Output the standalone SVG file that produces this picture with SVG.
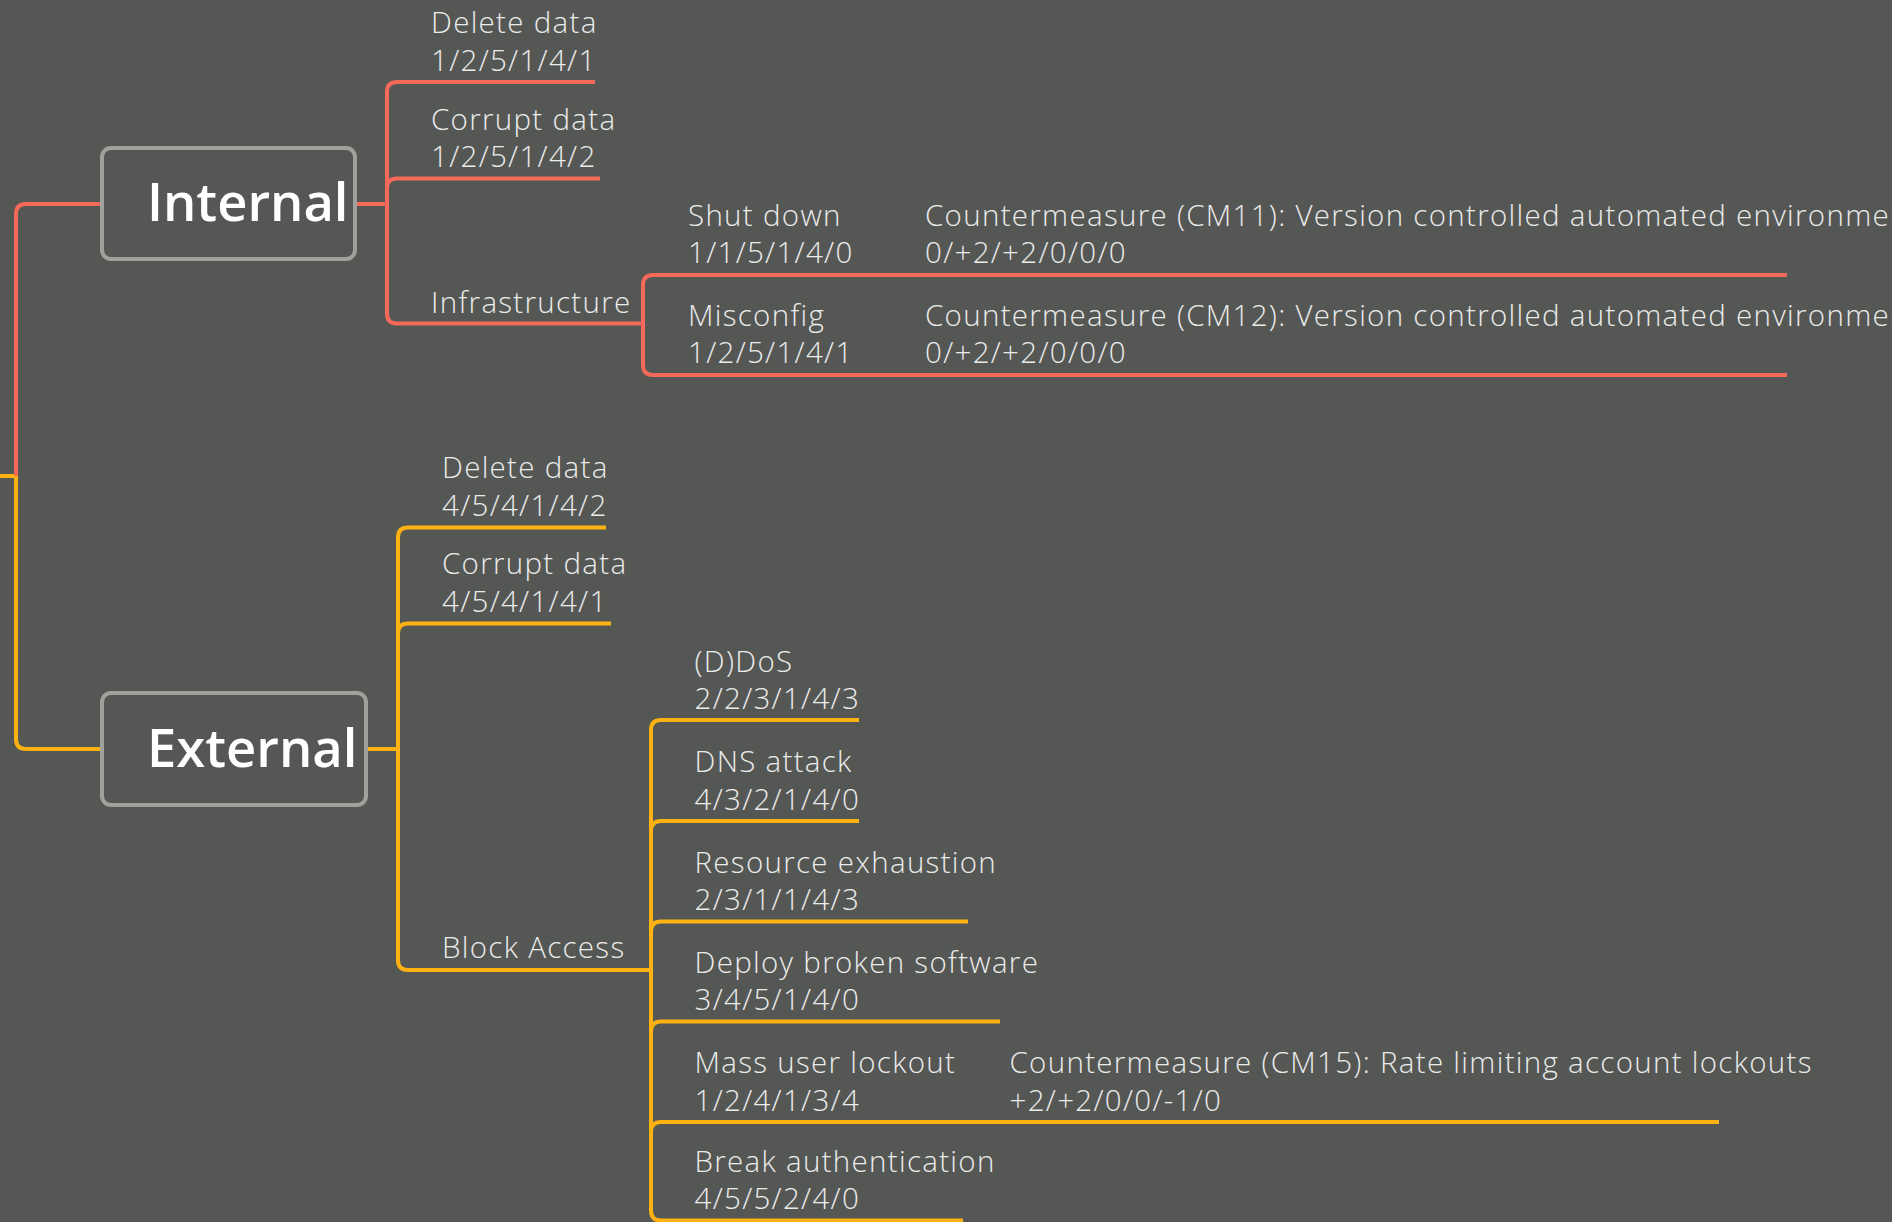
<svg xmlns="http://www.w3.org/2000/svg" width="1892" height="1222" viewBox="0 0 1892 1222">
<style>
.bg{fill:#555754}
.r{stroke:#F4695A;fill:none;stroke-width:4;stroke-linecap:butt}
.o{stroke:#FDB212;fill:none;stroke-width:4;stroke-linecap:butt}
.box{fill:#555754;stroke:#9EA19C;stroke-width:4}
.title{font-family:"Open Sans","Noto Sans",sans-serif;font-weight:600;font-size:52.5px;fill:#FFFFFF}
.leaf{font-family:"Open Sans","Noto Sans",sans-serif;font-weight:300;font-size:29.5px;letter-spacing:1.3px;fill:#EBEBEB}
</style>
<rect class="bg" x="0" y="0" width="1892" height="1222"/>
<g id="connectors">
  <path class="o" d="M0,476 H16"/>
  <path class="r" d="M16,476 V214 Q16,204 26,204 H102"/>
  <path class="o" d="M16,476 V739 Q16,749 26,749 H102"/>
  <path class="r" d="M355,204 H387"/>
  <path class="r" d="M595,82 H397 Q387,82 387,92 V313.5 Q387,323.5 397,323.5 H643"/>
  <path class="r" d="M387,188.5 Q387,178.5 397,178.5 H600"/>
  <path class="r" d="M1787,275 H653 Q643,275 643,285 V365 Q643,375 653,375 H1787"/>
  <path class="o" d="M366,749 H398"/>
  <path class="o" d="M606,527.5 H408 Q398,527.5 398,537.5 V960 Q398,970 408,970 H651"/>
  <path class="o" d="M398,633.5 Q398,623.5 408,623.5 H611"/>
  <path class="o" d="M859,720 H661 Q651,720 651,730 V1210.5 Q651,1220.5 661,1220.5 H963"/>
  <path class="o" d="M651,831 Q651,821 661,821 H859"/>
  <path class="o" d="M651,931.5 Q651,921.5 661,921.5 H968"/>
  <path class="o" d="M651,1031.5 Q651,1021.5 661,1021.5 H1000"/>
  <path class="o" d="M651,1132 Q651,1122 661,1122 H1719"/>
</g>
<g id="node-internal">
  <rect class="box" x="102" y="148" width="253" height="111" rx="9"/>
  <text class="title" x="147" y="221">Internal</text>
</g>
<g id="node-external">
  <rect class="box" x="102" y="693" width="264" height="112" rx="9"/>
  <text class="title" x="147" y="767">External</text>
</g>
<g id="node-int-delete"><text class="leaf"><tspan x="431" y="33">Delete data</tspan><tspan x="431" y="70.5">1/2/5/1/4/1</tspan></text></g>
<g id="node-int-corrupt"><text class="leaf"><tspan x="431" y="129.5">Corrupt data</tspan><tspan x="431" y="167">1/2/5/1/4/2</tspan></text></g>
<g id="node-infrastructure"><text class="leaf" x="431" y="313">Infrastructure</text></g>
<g id="node-shutdown"><text class="leaf"><tspan x="688" y="225.5">Shut down</tspan><tspan x="688" y="263">1/1/5/1/4/0</tspan></text></g>
<g id="node-cm11"><text class="leaf"><tspan x="925" y="225.5">Countermeasure (CM11): Version controlled automated environment</tspan><tspan x="925" y="263">0/+2/+2/0/0/0</tspan></text></g>
<g id="node-misconfig"><text class="leaf"><tspan x="688" y="325.5">Misconfig</tspan><tspan x="688" y="363">1/2/5/1/4/1</tspan></text></g>
<g id="node-cm12"><text class="leaf"><tspan x="925" y="325.5">Countermeasure (CM12): Version controlled automated environment</tspan><tspan x="925" y="363">0/+2/+2/0/0/0</tspan></text></g>
<g id="node-ext-delete"><text class="leaf"><tspan x="442" y="478">Delete data</tspan><tspan x="442" y="515.5">4/5/4/1/4/2</tspan></text></g>
<g id="node-ext-corrupt"><text class="leaf"><tspan x="442" y="574">Corrupt data</tspan><tspan x="442" y="611.5">4/5/4/1/4/1</tspan></text></g>
<g id="node-block-access"><text class="leaf" x="442" y="958">Block Access</text></g>
<g id="node-ddos"><text class="leaf"><tspan x="694.5" y="671.5">(D)DoS</tspan><tspan x="694.5" y="708.5">2/2/3/1/4/3</tspan></text></g>
<g id="node-dns"><text class="leaf"><tspan x="694.5" y="772">DNS attack</tspan><tspan x="694.5" y="809.5">4/3/2/1/4/0</tspan></text></g>
<g id="node-resource"><text class="leaf"><tspan x="694.5" y="872.5">Resource exhaustion</tspan><tspan x="694.5" y="910">2/3/1/1/4/3</tspan></text></g>
<g id="node-deploy"><text class="leaf"><tspan x="694.5" y="972.5">Deploy broken software</tspan><tspan x="694.5" y="1010">3/4/5/1/4/0</tspan></text></g>
<g id="node-lockout"><text class="leaf"><tspan x="694.5" y="1073">Mass user lockout</tspan><tspan x="694.5" y="1110.5">1/2/4/1/3/4</tspan></text></g>
<g id="node-cm15"><text class="leaf"><tspan x="1009.5" y="1073">Countermeasure (CM15): Rate limiting account lockouts</tspan><tspan x="1009.5" y="1110.5">+2/+2/0/0/-1/0</tspan></text></g>
<g id="node-break-auth"><text class="leaf"><tspan x="694.5" y="1171.5">Break authentication</tspan><tspan x="694.5" y="1209">4/5/5/2/4/0</tspan></text></g>
</svg>
